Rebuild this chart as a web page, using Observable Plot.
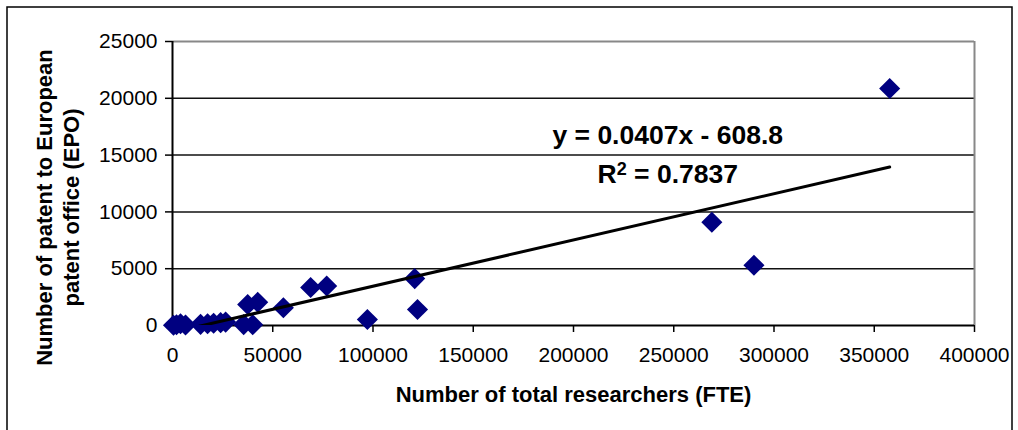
<!DOCTYPE html>
<html>
<head>
<meta charset="utf-8">
<script src="https://cdn.jsdelivr.net/npm/d3@7"></script>
<script src="https://cdn.jsdelivr.net/npm/@observablehq/plot@0.6"></script>
<style>
  html, body { margin: 0; padding: 0; background: #fff; }
  #chart svg { font-family: "Liberation Sans", Arial, sans-serif; display: block; }
</style>
</head>
<body>
<div id="chart"></div>
<script>
// Number of total researchers (FTE)
const researchers = [500, 2000, 4000, 6500, 14000, 17500, 20500, 24000, 26500, 35500, 40000, 37500, 42500, 55300, 68900, 76900, 97200, 120800, 122200, 269000, 290000, 357700];
// Number of patents to European patent office (EPO)
const patents = [20, 60, 150, 40, 100, 150, 200, 250, 300, 80, 60, 1850, 2050, 1560, 3340, 3480, 530, 4130, 1415, 9090, 5310, 20860];

const xTicks = [0, 50000, 100000, 150000, 200000, 250000, 300000, 350000, 400000];
const yTicks = [0, 5000, 10000, 15000, 20000, 25000];
const gridValues = [5000, 10000, 15000, 20000];

const slope = 0.0407;
const intercept = -608.8;
const equationText = "y = 0.0407x - 608.8";
const r2Text = "R2 = 0.7837";
const xTitle = "Number of total researchers (FTE)";
const yTitle = "Number of patent to European\npatent office (EPO)";

const points = researchers.map((x, i) => ({x, y: patents[i]}));
const xMin = d3.min(researchers), xMax = d3.max(researchers);
const trend = [xMin, xMax].map(x => ({x, y: slope * x + intercept}));
const annotations = [
  {label: equationText, x: 247000, y: 16700},
  {label: r2Text, x: 247000, y: 13250}
];

const chart = Plot.plot({
  width: 1018,
  height: 430,
  marginLeft: 172,
  marginRight: 44,
  marginTop: 41,
  marginBottom: 105,
  x: {domain: [0, 400000]},
  y: {domain: [0, 25000]},
  style: {fontFamily: "'Liberation Sans', Arial, sans-serif", color: "#000", background: "#fff"},
  marks: [
    Plot.ruleY(gridValues, {stroke: "#111", strokeWidth: 1.5}),
    Plot.ruleY([25000], {stroke: "#888", strokeWidth: 2}),
    Plot.ruleX([400000], {stroke: "#888", strokeWidth: 2}),
    Plot.axisX({ticks: xTicks, tickSize: 7, tickPadding: 15, fontSize: 21, tickFormat: d3.format("d"), label: null, stroke: "#000", strokeWidth: 1.5}),
    Plot.axisY({ticks: yTicks, tickSize: 7, tickPadding: 8, fontSize: 21, tickFormat: d3.format("d"), label: null, stroke: "#000", strokeWidth: 1.5}),
    Plot.ruleX([0], {stroke: "#000", strokeWidth: 2}),
    Plot.ruleY([0], {stroke: "#000", strokeWidth: 2}),
    Plot.dot(points, {x: "x", y: "y", symbol: "diamond2", r: 9.5, fill: "#000080", stroke: "none"}),
    Plot.line(trend, {x: "x", y: "y", stroke: "#000", strokeWidth: 3, clip: true}),
    Plot.text(annotations, {x: "x", y: "y", text: "label", fontSize: 26.5, fontWeight: "bold", fill: "#000", className: "eqn"}),
    Plot.text([xTitle], {frameAnchor: "bottom", dy: 76, fontSize: 22, fontWeight: "bold", fill: "#000"}),
    Plot.text([yTitle], {frameAnchor: "left", textAnchor: "middle", rotate: -90, dx: -116, dy: 24, fontSize: 22, fontWeight: "bold", lineHeight: 1.23, fill: "#000"})
  ]
});

// superscript the "2" of R2
d3.select(chart).selectAll("g.eqn text").each(function() {
  const t = d3.select(this);
  const s = t.text();
  if (s.startsWith("R2")) {
    t.text(null);
    t.append("tspan").text("R");
    t.append("tspan").attr("dy", "-0.45em").attr("font-size", "0.68em").text("2");
    t.append("tspan").attr("dy", "0.306em").text(s.slice(2));
  }
});

// outer chart-area border
d3.select(chart).append("rect")
  .attr("x", 7).attr("y", 7).attr("width", 1005).attr("height", 440)
  .attr("fill", "none").attr("stroke", "#000").attr("stroke-width", 1.5);

document.getElementById("chart").appendChild(chart);
</script>
</body>
</html>
